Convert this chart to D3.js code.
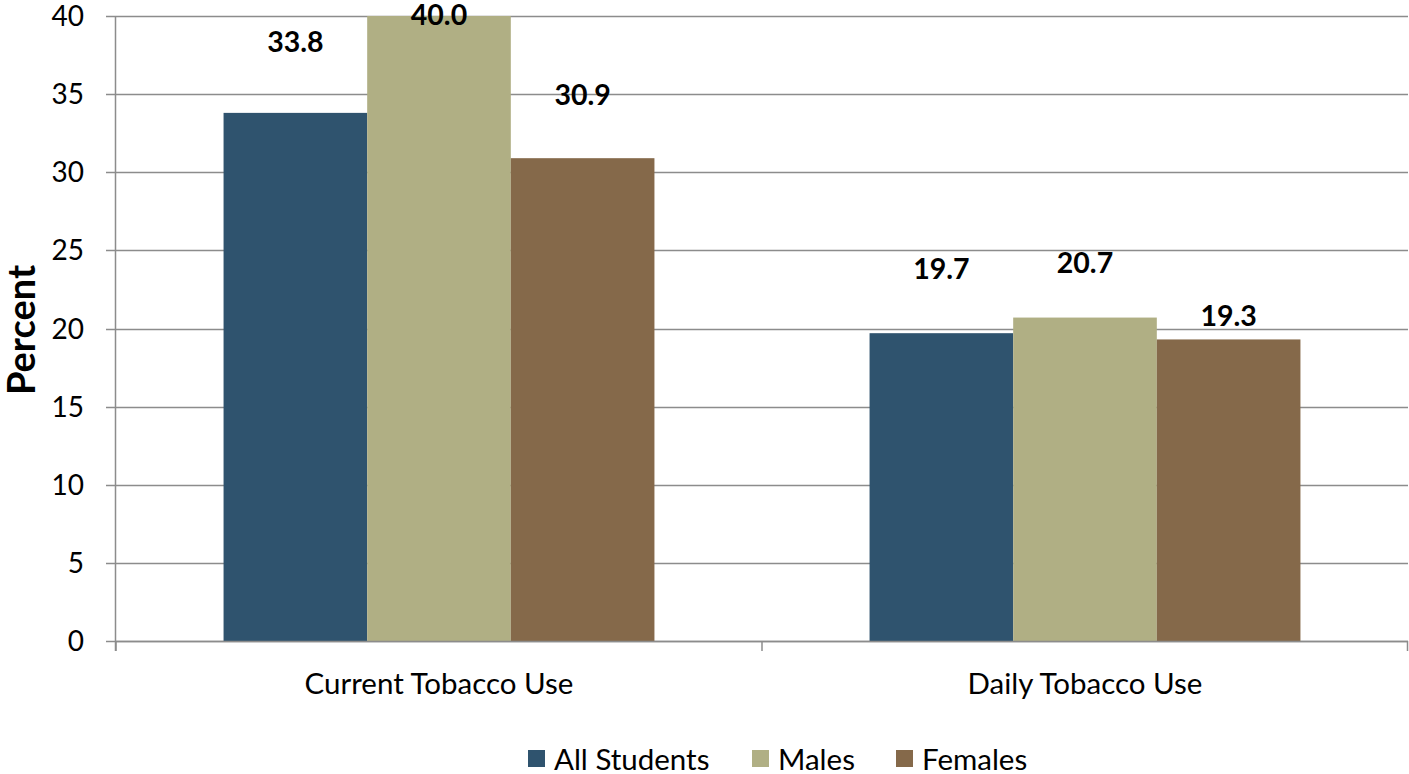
<!DOCTYPE html>
<html>
<head>
<meta charset="utf-8">
<script src="https://cdn.jsdelivr.net/npm/d3@7"></script>
<style>
  html, body { margin: 0; padding: 0; background: #fff; }
  svg { display: block; font-family: Lato, "Open Sans", sans-serif; }
</style>
</head>
<body>
<svg id="chart" width="1409" height="774"></svg>
<script>
const categories = ["Current Tobacco Use", "Daily Tobacco Use"];
const seriesNames = ["All Students", "Males", "Females"];
const allStudents = [33.8, 19.7];
const males = [40.0, 20.7];
const females = [30.9, 19.3];
const yTicks = [0, 5, 10, 15, 20, 25, 30, 35, 40];
const colors = ["#2F536E", "#B0AF84", "#85694A"];
// label baseline offsets above bar top (layout only), per category then series
const labelOffsets = [[61, -9, 53], [54, 45, 13]];

const seriesValues = [allStudents, males, females];
const data = categories.map((c, i) => ({
  category: c,
  values: seriesNames.map((s, j) => ({ series: s, value: seriesValues[j][i], j }))
}));

const svg = d3.select("#chart");
const margin = { left: 116, right: 1, top: 16, bottom: 133 };
const W = 1409, H = 774;
const x0 = d3.scaleBand().domain(categories)
  .range([margin.left, W - margin.right])
  .paddingInner(0.333).paddingOuter(0.1665);
const x1 = d3.scaleBand().domain(seriesNames).range([0, x0.bandwidth()]);
const y = d3.scaleLinear().domain([0, 40]).range([H - margin.bottom, margin.top]);

const gridColor = "#8c8c8c";

// gridlines
svg.append("g").selectAll("line").data(yTicks).join("line")
  .attr("x1", margin.left - 10).attr("x2", W - margin.right)
  .attr("y1", d => Math.round(y(d)) + 0.5).attr("y2", d => Math.round(y(d)) + 0.5)
  .attr("stroke", gridColor).attr("stroke-width", 1.5);

// y axis labels
svg.append("g").selectAll("text").data(yTicks).join("text")
  .attr("x", 84).attr("y", d => y(d))
  .attr("dy", "0.36em").attr("text-anchor", "end")
  .attr("font-size", 28).attr("fill", "#000")
  .text(d => d);

// bars
const groups = svg.append("g").selectAll("g").data(data).join("g")
  .attr("transform", d => `translate(${x0(d.category)},0)`);
groups.selectAll("rect").data(d => d.values).join("rect")
  .attr("x", d => x1(d.series))
  .attr("y", d => y(d.value))
  .attr("width", x1.bandwidth())
  .attr("height", d => y(0) - y(d.value))
  .attr("fill", d => colors[d.j]);

// y axis line
svg.append("line")
  .attr("x1", margin.left - 0.5).attr("x2", margin.left - 0.5)
  .attr("y1", y(40)).attr("y2", y(0) + 10)
  .attr("stroke", gridColor).attr("stroke-width", 1.5);

// x axis line + ticks
svg.append("line")
  .attr("x1", margin.left).attr("x2", W - margin.right)
  .attr("y1", Math.round(y(0)) + 0.5).attr("y2", Math.round(y(0)) + 0.5)
  .attr("stroke", gridColor).attr("stroke-width", 1.5);
const boundaries = d3.range(categories.length + 1).map(i => margin.left + i * x0.step());
svg.append("g").selectAll("line").data(boundaries).join("line")
  .attr("x1", d => Math.min(d, W - 1.5)).attr("x2", d => Math.min(d, W - 1.5))
  .attr("y1", y(0)).attr("y2", y(0) + 10)
  .attr("stroke", gridColor).attr("stroke-width", 1.5);

// category labels
svg.append("g").selectAll("text").data(categories).join("text")
  .attr("x", d => x0(d) + x0.bandwidth() / 2)
  .attr("y", 694)
  .attr("text-anchor", "middle")
  .attr("font-size", 29.5).attr("fill", "#000")
  .text(d => d);

// data labels
groups.each(function(d, i) {
  d3.select(this).selectAll("text.val").data(d.values).join("text")
    .attr("class", "val")
    .attr("x", v => x1(v.series) + x1.bandwidth() / 2)
    .attr("y", v => y(v.value) - labelOffsets[i][v.j])
    .attr("text-anchor", "middle")
    .attr("font-size", 28.5).attr("font-weight", "bold").attr("fill", "#000")
    .text(v => v.value.toFixed(1));
});

// y axis title
svg.append("text")
  .attr("transform", `translate(35,330) rotate(-90)`)
  .attr("text-anchor", "middle")
  .attr("font-size", 38).attr("font-weight", "bold").attr("fill", "#000")
  .text("Percent");

// legend
const legendX = [528, 752, 896];
const legend = svg.append("g").selectAll("g").data(seriesNames).join("g")
  .attr("transform", (d, i) => `translate(${legendX[i]},750)`);
legend.append("rect").attr("width", 17).attr("height", 17)
  .attr("fill", (d, i) => colors[i]);
legend.append("text").attr("x", 26).attr("y", 9.5).attr("dy", "0.36em")
  .attr("font-size", 29.5).attr("fill", "#000")
  .text(d => d);
</script>
</body>
</html>
